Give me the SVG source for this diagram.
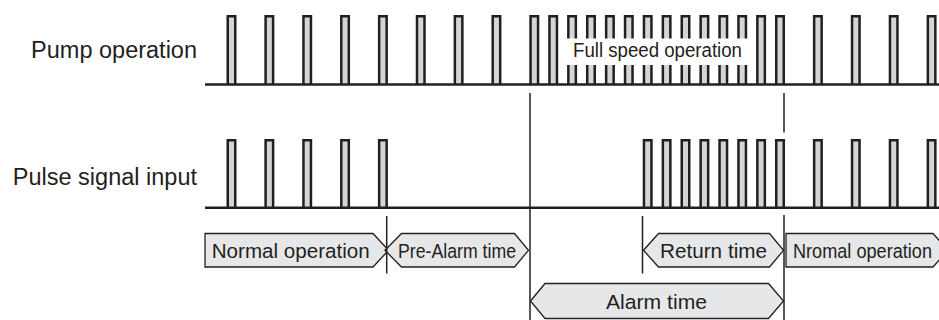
<svg xmlns="http://www.w3.org/2000/svg" xmlns:xlink="http://www.w3.org/1999/xlink" width="939" height="320" viewBox="0 0 939 320">
<style>
.wave{fill:#d4d6d6;stroke:#231f20;stroke-width:2.5;stroke-linejoin:miter}
.base{stroke:#231f20;stroke-width:2.5;fill:none}
.lbl{font-family:"Liberation Sans",Arial,sans-serif;fill:#231f20}
.row{font-size:23.5px;text-anchor:end}
.bx{fill:#e6e7e8;stroke:#231f20;stroke-width:1.3}
.bt{font-size:20.5px}
.vl{stroke:#231f20;stroke-width:1.5;fill:none}
</style>
<defs>
<path id="pu1" class="wave" d="M1.25,84.5 V16.3 H8.75 V84.5"/>
<path id="pu2" class="wave" d="M1.25,207.7 V140.3 H8.75 V207.7"/>
</defs>
<rect width="939" height="320" fill="#ffffff"/>

<g id="label-pump"><text class="lbl row" x="197" y="58">Pump operation</text></g>
<g id="label-pulse"><text class="lbl row" x="197" y="185">Pulse signal input</text></g>

<g id="wave-pump">
<use xlink:href="#pu1" x="226.5"/><use xlink:href="#pu1" x="264.35"/><use xlink:href="#pu1" x="302.2"/>
<use xlink:href="#pu1" x="340.05"/><use xlink:href="#pu1" x="377.9"/><use xlink:href="#pu1" x="415.75"/>
<use xlink:href="#pu1" x="453.6"/><use xlink:href="#pu1" x="491.45"/><use xlink:href="#pu1" x="529.3"/>
<use xlink:href="#pu1" x="548.2"/><use xlink:href="#pu1" x="567.1"/><use xlink:href="#pu1" x="586"/>
<use xlink:href="#pu1" x="604.9"/><use xlink:href="#pu1" x="623.8"/><use xlink:href="#pu1" x="642.7"/>
<use xlink:href="#pu1" x="661.6"/><use xlink:href="#pu1" x="680.5"/><use xlink:href="#pu1" x="699.4"/>
<use xlink:href="#pu1" x="718.3"/><use xlink:href="#pu1" x="737.2"/><use xlink:href="#pu1" x="756.1"/>
<use xlink:href="#pu1" x="775"/><use xlink:href="#pu1" x="812.9"/><use xlink:href="#pu1" x="850.8"/>
<use xlink:href="#pu1" x="888.7"/><use xlink:href="#pu1" x="926.6"/>
<line class="base" x1="205" y1="84.5" x2="939" y2="84.5"/>
<rect x="566.5" y="38.5" width="181.5" height="26.5" fill="#ffffff"/>
<text class="lbl" x="573" y="57" font-size="20" textLength="169" lengthAdjust="spacingAndGlyphs">Full speed operation</text>
</g>

<g id="wave-pulse">
<use xlink:href="#pu2" x="226.5"/><use xlink:href="#pu2" x="264.35"/><use xlink:href="#pu2" x="302.2"/>
<use xlink:href="#pu2" x="340.05"/><use xlink:href="#pu2" x="377.9"/>
<use xlink:href="#pu2" x="642.7"/><use xlink:href="#pu2" x="661.6"/><use xlink:href="#pu2" x="680.5"/>
<use xlink:href="#pu2" x="699.4"/><use xlink:href="#pu2" x="718.3"/><use xlink:href="#pu2" x="737.2"/>
<use xlink:href="#pu2" x="756.1"/><use xlink:href="#pu2" x="775"/>
<use xlink:href="#pu2" x="812.9"/><use xlink:href="#pu2" x="850.8"/><use xlink:href="#pu2" x="888.7"/><use xlink:href="#pu2" x="926.6"/>
<line class="base" x1="205" y1="207.7" x2="939" y2="207.7"/>
</g>

<g id="box-normal">
<path class="bx" d="M205,233.5 H373 L388.5,250.3 L373,267 H205 Z"/>
<text class="lbl bt" x="211.7" y="258.3" textLength="158" lengthAdjust="spacingAndGlyphs">Normal operation</text>
</g>
<g id="box-prealarm">
<path class="bx" d="M385,250.3 L401.5,233.5 H514.5 L528.5,250.3 L514.5,267 H401.5 Z"/>
<text class="lbl bt" x="398" y="258.3" textLength="118" lengthAdjust="spacingAndGlyphs">Pre-Alarm time</text>
</g>
<g id="box-return">
<path class="bx" d="M643.5,250.3 L658.5,233.5 H769.5 L783.5,250.3 L769.5,267 H658.5 Z"/>
<text class="lbl bt" x="660" y="258.3" textLength="107" lengthAdjust="spacingAndGlyphs">Return time</text>
</g>
<g id="box-nromal">
<path class="bx" d="M786,233.5 H933 L948,250.3 L933,267 H786 Z"/>
<text class="lbl bt" x="793" y="258.3" textLength="139" lengthAdjust="spacingAndGlyphs">Nromal operation</text>
</g>
<g id="box-alarm">
<path class="bx" d="M530.5,301 L545,283.5 H768.5 L783.5,301 L768.5,318.5 H545 Z"/>
<text class="lbl bt" x="606" y="309.3" textLength="101" lengthAdjust="spacingAndGlyphs">Alarm time</text>
</g>

<g id="connectors">
<line class="vl" x1="386.7" y1="216" x2="386.7" y2="273.5"/>
<line class="vl" x1="530" y1="93" x2="530" y2="320"/>
<line class="vl" x1="642.5" y1="216" x2="642.5" y2="273.5"/>
<line class="vl" x1="784" y1="93" x2="784" y2="132.5"/>
<line class="vl" x1="784" y1="215" x2="784" y2="320"/>
</g>
</svg>
